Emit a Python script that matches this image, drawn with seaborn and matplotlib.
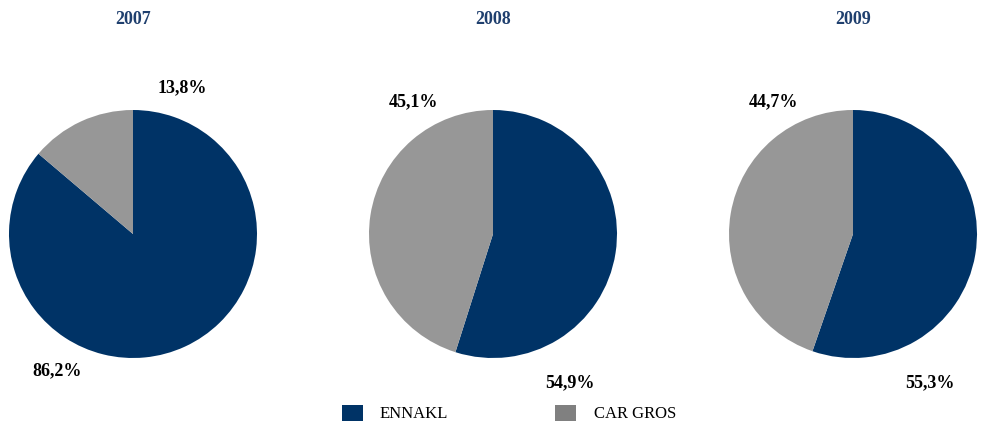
import matplotlib
matplotlib.use("Agg")
import matplotlib.pyplot as plt
from matplotlib.patches import Rectangle
import seaborn as sns

years = ["2007", "2008", "2009"]
ennakl = [86.2, 54.9, 55.3]
car_gros = [13.8, 45.1, 44.7]
series_names = ["ENNAKL", "CAR GROS"]

sns.set_theme(style="white")
plt.rcParams["font.family"] = ["Liberation Serif", "DejaVu Serif"]

BLUE = "#003366"
GREY = "#979797"
GREY_KEY = "#808080"
TITLE_BLUE = "#1F3F6E"

W, H = 982, 423
fig = plt.figure(figsize=(W / 100, H / 100), dpi=100)

centers_x = [133, 493, 853]
cy, r = 234, 124
# label offsets in units of pie radius: (ennakl, car gros)
label_pos = [
    ((-0.61, -1.10), (0.40, 1.18)),
    ((0.62, -1.20), (-0.645, 1.065)),
    ((0.62, -1.20), (-0.645, 1.065)),
]

def fmt(v):
    return f"{v:.1f}".replace(".", ",") + "%"

for i, year in enumerate(years):
    cx = centers_x[i]
    ax = fig.add_axes([(cx - r) / W, (H - cy - r) / H, 2 * r / W, 2 * r / H])
    ax.pie([ennakl[i], car_gros[i]], colors=[BLUE, GREY], startangle=90,
           counterclock=False, radius=1.0, wedgeprops=dict(linewidth=0))
    ax.set_xlim(-1, 1)
    ax.set_ylim(-1, 1)
    ax.set_aspect("equal")
    ax.axis("off")
    (ex, ey), (gx, gy) = label_pos[i]
    ax.text(ex, ey, fmt(ennakl[i]), ha="center", va="center",
            fontsize=13, fontweight="bold", color="black", clip_on=False)
    ax.text(gx, gy, fmt(car_gros[i]), ha="center", va="center",
            fontsize=13, fontweight="bold", color="black", clip_on=False)
    fig.text(cx / W, 1 - 20 / H, year, ha="center", va="center",
             fontsize=13, fontweight="bold", color=TITLE_BLUE)

# legend keys
for name, color, x0, tx in [(series_names[0], BLUE, 342, 380),
                            (series_names[1], GREY_KEY, 555, 594)]:
    fig.patches.append(Rectangle((x0 / W, 1 - 421 / H), 21 / W, 16 / H,
                                 transform=fig.transFigure, facecolor=color,
                                 edgecolor="none"))
    fig.text(tx / W, 1 - 414 / H, name, ha="left", va="center",
             fontsize=12, color="black")

fig.savefig("out.png", dpi=100, facecolor="white")
